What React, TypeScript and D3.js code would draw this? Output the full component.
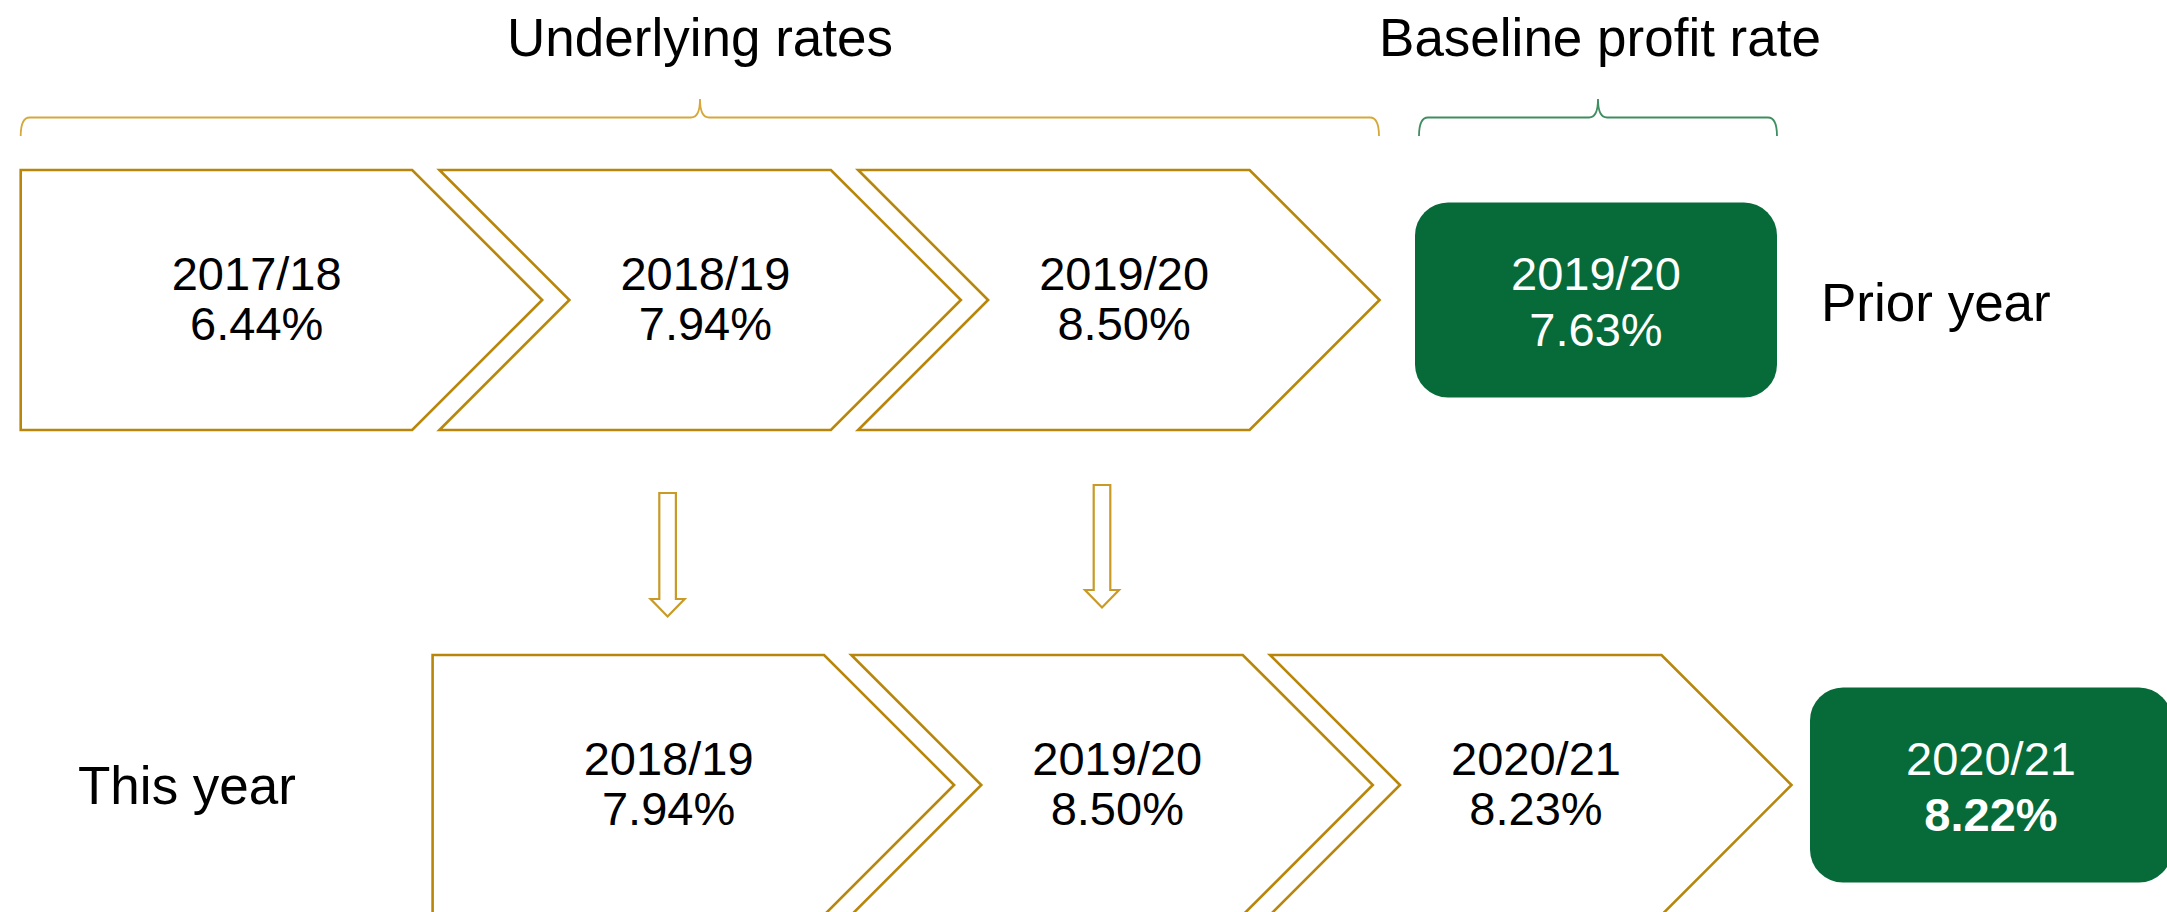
import React from "react";
import * as d3 from "d3";

// ---- data ----
const priorYears = ["2017/18", "2018/19", "2019/20"];
const priorRates = [6.44, 7.94, 8.5];
const thisYears = ["2018/19", "2019/20", "2020/21"];
const thisRates = [7.94, 8.5, 8.23];
const baselineYears = ["2019/20", "2020/21"];
const baselineRates = [7.63, 8.22];
const rowLabels = ["Prior year", "This year"];
const groupTitles = ["Underlying rates", "Baseline profit rate"];

// ---- layout ----
const W = 2167;
const H = 912;
const FONT = "'Liberation Sans', Arial, Helvetica, sans-serif";
const GOLD = "#B8860B";
const ARROW = "#C99A26";
const BRACE_GOLD = "#D6A83A";
const BRACE_GREEN = "#3E8E60";
const GREEN = "#066B39";

const chevW = 521.5;
const chevD = 130;
const chevH = 260;
const step = 418.7;
const rows = [
  { x0: 20.7, top: 170, years: priorYears, rates: priorRates, boxX: 1415 },
  { x0: 432.6, top: 655, years: thisYears, rates: thisRates, boxX: 1810 },
];
const boxW = 362;
const boxH = 195;
const fmt = (v: number) => d3.format(".2f")(v) + "%";

function chevronPath(x: number, top: number, first: boolean) {
  const p = d3.path();
  const mid = top + chevH / 2;
  const bot = top + chevH;
  p.moveTo(x, top);
  p.lineTo(x + chevW - chevD, top);
  p.lineTo(x + chevW, mid);
  p.lineTo(x + chevW - chevD, bot);
  p.lineTo(x, bot);
  if (!first) p.lineTo(x + chevD, mid);
  p.closePath();
  return p.toString();
}

function arrowPath(cx: number, top: number, tip: number) {
  const sw = 8.3;
  const hw = 17;
  const hl = 17.5;
  const base = tip - hl;
  const p = d3.path();
  p.moveTo(cx - sw, top);
  p.lineTo(cx + sw, top);
  p.lineTo(cx + sw, base);
  p.lineTo(cx + hw, base);
  p.lineTo(cx, tip);
  p.lineTo(cx - hw, base);
  p.lineTo(cx - sw, base);
  p.closePath();
  return p.toString();
}

function bracePath(x1: number, x2: number, xc: number, y: number, yTip: number, yEnd: number) {
  const r = 9;
  const p = d3.path();
  p.moveTo(x1, yEnd);
  p.quadraticCurveTo(x1, y, x1 + r, y);
  p.lineTo(xc - r, y);
  p.quadraticCurveTo(xc, y, xc, yTip);
  p.quadraticCurveTo(xc, y, xc + r, y);
  p.lineTo(x2 - r, y);
  p.quadraticCurveTo(x2, y, x2, yEnd);
  return p.toString();
}

const arrows = [
  { cx: 667.6, top: 493, tip: 616.5 },
  { cx: 1102, top: 485, tip: 607.5 },
];

export default function App() {
  const xScale = (row: number) => d3.scaleLinear().domain([0, 1]).range([rows[row].x0, rows[row].x0 + step]);
  return (
    <svg
      width={W}
      height={H}
      viewBox={`0 0 ${W} ${H}`}
      style={{ position: "absolute", left: 0, top: 0, background: "#fff" }}
      fontFamily={FONT}
    >
      {/* titles */}
      <text x={700} y={56} fontSize={53} textAnchor="middle" fill="#000">
        {groupTitles[0]}
      </text>
      <text x={1600} y={56} fontSize={53} textAnchor="middle" fill="#000">
        {groupTitles[1]}
      </text>
      {/* braces */}
      <path d={bracePath(20.7, 1379, 700, 117.5, 99, 136)} fill="none" stroke={BRACE_GOLD} strokeWidth={1.8} />
      <path d={bracePath(1419, 1777, 1598, 117.5, 99, 136)} fill="none" stroke={BRACE_GREEN} strokeWidth={1.8} />

      {rows.map((row, ri) => {
        const xs = xScale(ri);
        const mid = row.top + chevH / 2;
        return (
          <g key={ri}>
            {row.years.map((yr, i) => {
              const x = xs(i);
              const cx = i === 0 ? x + 236 : x + 266;
              return (
                <g key={i}>
                  <path d={chevronPath(x, row.top, i === 0)} fill="#fff" stroke={GOLD} strokeWidth={2.6} strokeLinejoin="miter" />
                  <text x={cx} y={mid - 10} fontSize={47} textAnchor="middle" fill="#000">
                    {yr}
                  </text>
                  <text x={cx} y={mid + 40} fontSize={47} textAnchor="middle" fill="#000">
                    {fmt(row.rates[i])}
                  </text>
                </g>
              );
            })}
            <rect x={row.boxX} y={mid - boxH / 2} width={boxW} height={boxH} rx={33} ry={33} fill={GREEN} />
            <text x={row.boxX + boxW / 2} y={mid - 10} fontSize={47} textAnchor="middle" fill="#fff">
              {baselineYears[ri]}
            </text>
            <text
              x={row.boxX + boxW / 2}
              y={mid + 46}
              fontSize={47}
              textAnchor="middle"
              fill="#fff"
              fontWeight={ri === 1 ? "bold" : "normal"}
            >
              {fmt(baselineRates[ri])}
            </text>
          </g>
        );
      })}

      {/* row labels */}
      <text x={1821} y={321} fontSize={53} fill="#000">
        {rowLabels[0]}
      </text>
      <text x={78} y={804} fontSize={53} fill="#000">
        {rowLabels[1]}
      </text>

      {/* arrows */}
      {arrows.map((a, i) => (
        <path key={i} d={arrowPath(a.cx, a.top, a.tip)} fill="#fff" stroke={ARROW} strokeWidth={2.2} />
      ))}
    </svg>
  );
}
